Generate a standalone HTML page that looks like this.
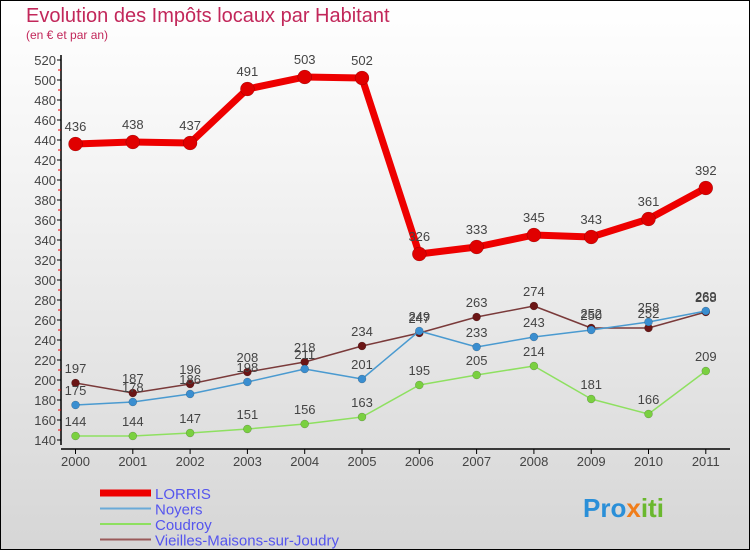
<!DOCTYPE html>
<html><head><meta charset="utf-8"><style>
body{margin:0;width:750px;height:550px;overflow:hidden;font-family:"Liberation Sans",sans-serif}
#wrap{position:absolute;left:0;top:0;width:748px;height:548px;border:1px solid #000;background:linear-gradient(#ffffff,#f4f4f4 30%,#d6d6d6)}
</style></head><body>
<div id="wrap">
<svg id="chart" width="750" height="550" style="position:absolute;left:-1px;top:-1px">
<text x="26" y="22" font-size="20" fill="#c2275a">Evolution des Impôts locaux par Habitant</text>
<text x="26" y="39" font-size="12" fill="#c2275a">(en € et par an)</text>
<g id="axes"></g><g id="series"></g><g id="legend"></g>
<text x="583" y="517" font-size="26" font-weight="bold" fill="#2a8fd8">Pro<tspan fill="#f07d1a">x</tspan><tspan fill="#6ab82e">iti</tspan></text>
</svg></div>
<script>
const years=["2000","2001","2002","2003","2004","2005","2006","2007","2008","2009","2010","2011"];
const lorris=[436,438,437,491,503,502,326,333,345,343,361,392];
const noyers=[175,178,186,198,211,201,249,233,243,250,258,269];
const coudroy=[144,144,147,151,156,163,195,205,214,181,166,209];
const vieilles=[197,187,196,208,218,234,247,263,274,252,252,268];
const yTicks=[140,160,180,200,220,240,260,280,300,320,340,360,380,400,420,440,460,480,500,520];
const NS="http://www.w3.org/2000/svg";
const X=i=>75.5+i*57.3;
const Y=v=>440-(v-140)*(380/380);
function mk(t,a,p){const e=document.createElementNS(NS,t);for(const k in a)e.setAttribute(k,a[k]);p.appendChild(e);return e;}
const ax=document.getElementById('axes');
const yl=mk('line',{x1:61,y1:55,x2:61,y2:445,stroke:'#000','stroke-width':1.5},ax);


const xl=mk('line',{x1:61,y1:449,x2:730,y2:449,stroke:'#000','stroke-width':1.5},ax);


yTicks.forEach(v=>{
 mk('line',{x1:57,y1:Y(v),x2:61,y2:Y(v),stroke:'#000'},ax);
 if(v<520)mk('line',{x1:58,y1:Y(v+10),x2:61,y2:Y(v+10),stroke:'#e00'},ax);
 const t=mk('text',{x:56,y:Y(v)+5,'text-anchor':'end','font-size':13,fill:'#444'},ax);t.textContent=v;
 
 
});
years.forEach((y,i)=>{
 mk('line',{x1:X(i),y1:449,x2:X(i),y2:454,stroke:'#000'},ax);
 const t=mk('text',{x:X(i),y:466,'text-anchor':'middle','font-size':13,fill:'#444'},ax);t.textContent=y;
 
 
});
const sg=document.getElementById('series');
const series=[
 {n:'vieilles',d:vieilles,c:'#7a3a3a',m:'#6b1515',w:1.5,r:4},
 {n:'noyers',d:noyers,c:'#4a9ad0',m:'#3a8ed0',w:1.5,r:4},
 {n:'coudroy',d:coudroy,c:'#8ee060',m:'#7ad040',w:1.5,r:4},
 {n:'lorris',d:lorris,c:'#ee0000',m:'#e00000',w:7,r:7}];
series.forEach(s=>{
 const g=mk('g',{},sg);
 
 
 const pl=mk('polyline',{points:s.d.map((v,i)=>X(i)+','+Y(v)).join(' '),fill:'none',stroke:s.c,'stroke-width':s.w,'stroke-linejoin':'round'},g);
 
 
 s.d.forEach((v,i)=>{
  const c=mk('circle',{cx:X(i),cy:Y(v),r:s.r,fill:s.m,stroke:'rgba(0,0,0,0.3)','stroke-width':0.5},g);
  
  
  const t=mk('text',{x:X(i),y:Y(v)-(s.r+6),'text-anchor':'middle','font-size':13,fill:'#444'},g);t.textContent=v;
  
  
 });
});
const lg=document.getElementById('legend');
const le=[['LORRIS','#ee0000',7],['Noyers','#6aaad8',2],['Coudroy','#8ee060',2],['Vieilles-Maisons-sur-Joudry','#9a5a5a',2]];
le.forEach((e,i)=>{
 const y=493+i*15.5;
 const g=mk('g',{},lg);
 
 
 mk('line',{x1:100,y1:y,x2:151,y2:y,stroke:e[1],'stroke-width':e[2]},g);
 const t=mk('text',{x:155,y:y+6,'font-size':15,fill:'#5555ee'},g);t.textContent=e[0];
});
</script>
</body></html>
